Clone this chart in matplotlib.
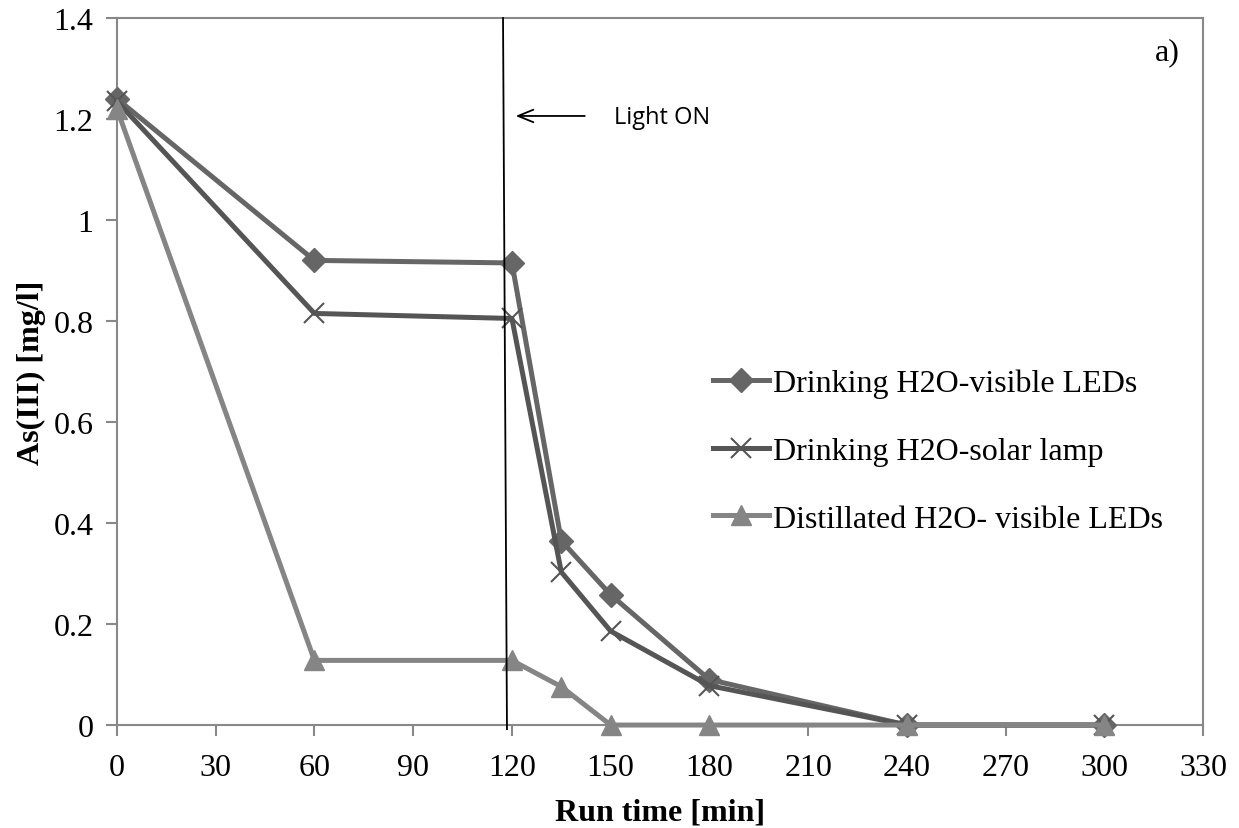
import matplotlib
matplotlib.use("Agg")
import matplotlib.pyplot as plt

# Run time [min]
time_min = [0, 60, 120, 135, 150, 180, 240, 300]

# As(III) concentration [mg/l]
drinking_leds = [1.24, 0.92, 0.915, 0.365, 0.258, 0.09, 0.0, 0.0]
drinking_solar = [1.235, 0.815, 0.805, 0.303, 0.186, 0.078, 0.0, 0.0]
distilled_leds = [1.22, 0.128, 0.128, 0.076, 0.0, 0.0, 0.0, 0.0]

labels = [
	"Drinking H2O-visible LEDs",
	"Drinking H2O-solar lamp",
	"Distillated H2O- visible LEDs",
]

x_ticks = list(range(0, 331, 30))
y_ticks = [0, 0.2, 0.4, 0.6, 0.8, 1, 1.2, 1.4]
y_tick_labels = ["0", "0.2", "0.4", "0.6", "0.8", "1", "1.2", "1.4"]

light_on_time = 118  # lamp switched on

plt.rcParams["font.family"] = ["Liberation Serif", "DejaVu Serif"]

fig = plt.figure(figsize=(12.39, 8.29), dpi=100)
ax = fig.add_axes([0.0944, 0.1242, 0.8766, 0.8529])

ax.plot(time_min, drinking_leds, color="#666666", lw=3.6, marker="D",
	ms=12, label=labels[0], clip_on=False, zorder=4)
ax.plot(time_min, drinking_solar, color="#555555", lw=3.6, marker="x",
	ms=14, mew=1.5, label=labels[1], clip_on=False, zorder=4)
ax.plot(time_min, distilled_leds, color="#858585", lw=3.6, marker="^",
	ms=14, label=labels[2], clip_on=False, zorder=4)

ax.set_xlim(0, 330)
ax.set_ylim(0, 1.4)
ax.set_xticks(x_ticks)
ax.set_yticks(y_ticks)
ax.set_yticklabels(y_tick_labels)
ax.tick_params(axis="both", direction="out", length=8, width=1.5,
	color="#888888", labelsize=23)
ax.tick_params(axis="x", pad=12)
ax.tick_params(axis="y", pad=9)
for side in ax.spines.values():
	side.set_color("#888888")
	side.set_linewidth(1.5)

ax.set_xlabel("Run time [min]", fontsize=23, fontweight="bold", labelpad=11)
ax.set_ylabel("As(III) [mg/l]", fontsize=23, fontweight="bold", labelpad=5)

# light switched on: slightly slanted marker line
ax.plot([light_on_time - 0.7, light_on_time + 0.5], [1.4, -0.008],
	color="black", lw=1.3, clip_on=False, zorder=5)
ax.annotate("", xy=(120.3, 1.206), xytext=(143, 1.206),
	arrowprops=dict(arrowstyle="->,head_length=1.1,head_width=0.45",
		color="black", lw=1.3))
ax.text(151, 1.203, "Light ON", fontsize=17, family=["Open Sans", "DejaVu Sans"],
	va="center", ha="left")
ax.text(323, 1.333, "a)", fontsize=23, ha="right", va="center")

ax.legend(loc="upper left", bbox_to_anchor=(0.537, 0.522), frameon=False,
	fontsize=23, handlelength=1.75, handletextpad=0.12, labelspacing=1.2,
	borderaxespad=0)

fig.savefig("out.png", dpi=100)
